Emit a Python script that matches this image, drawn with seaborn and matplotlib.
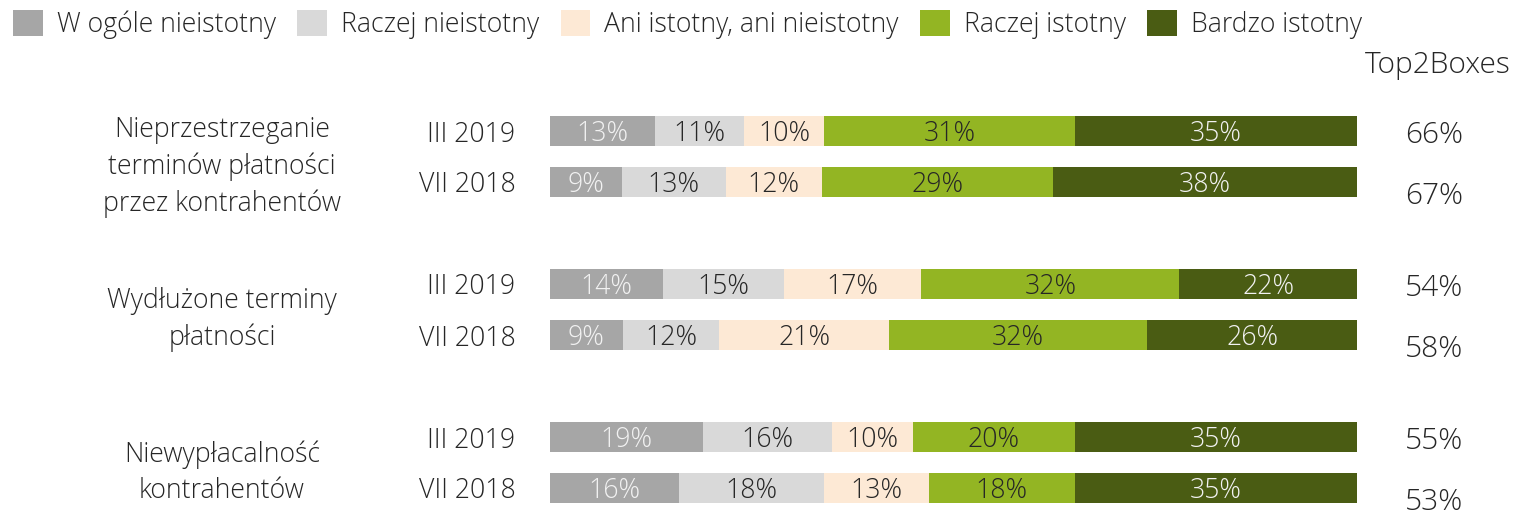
import numpy as np
import pandas as pd
import matplotlib
matplotlib.use("Agg")
import matplotlib.pyplot as plt
from matplotlib.patches import Patch
from matplotlib import transforms
import seaborn as sns

# --- dane ---
categories = ["W ogóle nieistotny", "Raczej nieistotny", "Ani istotny, ani nieistotny",
              "Raczej istotny", "Bardzo istotny"]
issues = ["Nieprzestrzeganie\nterminów płatności\nprzez kontrahentów",
          "Wydłużone terminy\npłatności",
          "Niewypłacalność\nkontrahentów"]
periods = ["III 2019", "VII 2018"]

w_ogole = [13, 9, 14, 9, 19, 16]
raczej_nie = [11, 13, 15, 12, 16, 18]
ani = [10, 12, 17, 21, 10, 13]
raczej_tak = [31, 29, 32, 32, 20, 18]
bardzo = [35, 38, 22, 26, 35, 35]
top2 = [66, 67, 54, 58, 55, 53]

colors = ["#a6a6a6", "#d9d9d9", "#fde9d5", "#93b523", "#4a5c13"]
label_colors = ["#f2f2f2", "#262626", "#262626", "#262626", "#f2f2f2"]
text_color = "#262626"

sns.set_theme(style="white")
plt.rcParams["font.family"] = ["Open Sans", "DejaVu Sans"]
plt.rcParams["font.weight"] = "light"
plt.rcParams["text.color"] = text_color
FS = 19.2
FS_TOP = 21.5

# wiersze: 2 okresy na problem, z pustym wierszem pomiędzy grupami
order = ["r0", "r1", "gap1", "r2", "r3", "gap2", "r4", "r5"]
rows = ["r0", "r1", "r2", "r3", "r4", "r5"]
vals = np.array([w_ogole, raczej_nie, ani, raczej_tak, bardzo], dtype=float).T
totals = vals.sum(axis=1, keepdims=True)
cum = np.cumsum(vals, axis=1) / totals * 100

df = pd.DataFrame(cum, columns=[f"cum{i}" for i in range(5)])
df["row"] = rows

fig = plt.figure(figsize=(15.15, 5.15), dpi=100)
ax = fig.add_axes([550 / 1515, 0, 807 / 1515, 1])

# skumulowane słupki rysowane od najdłuższego
for i in reversed(range(5)):
    sns.barplot(data=df, x=f"cum{i}", y="row", order=order, orient="h",
                color=colors[i], saturation=1, width=0.57, errorbar=None,
                linewidth=0, ax=ax)

# etykiety procentowe w segmentach
pos = {r: order.index(r) for r in rows}
for j, r in enumerate(rows):
    start = 0
    for i in range(5):
        end = cum[j, i]
        ax.text((start + end) / 2, pos[r] + 0.05, f"{int(vals[j, i])}%", ha="center", va="center",
                color=label_colors[i], fontsize=FS, fontweight="light")
        start = end

ax.set_xlim(0, 100)
ax.set_ylim(7 + 27 / 51, -131 / 51)
ax.set_xticks([])
ax.set_yticks(range(len(order)))
ax.set_yticklabels([periods[0], periods[1], "", periods[0], periods[1], "", periods[0], periods[1]])
ax.tick_params(axis="y", length=0, pad=25, labelsize=FS, labelcolor=text_color)
ax.set_xlabel("")
ax.set_ylabel("")
sns.despine(ax=ax, left=True, bottom=True)
ax.patch.set_alpha(0)

# nazwy problemów
trans = transforms.blended_transform_factory(fig.transFigure, ax.transData)
for g, name in enumerate(issues):
    mid = (pos[rows[2 * g]] + pos[rows[2 * g + 1]]) / 2 + 0.2
    ax.text(222 / 1515, mid, name, transform=trans, ha="center", va="center",
            multialignment="center", linespacing=1.4, fontsize=FS, clip_on=False)

# Top2Boxes
fig.text(1438 / 1515, 1 - 65 / 515, "Top2Boxes", ha="center", va="center", fontsize=FS_TOP)
offsets = [0.08, 0.27]
for j, r in enumerate(rows):
    ax.text(1434 / 1515, pos[r] + offsets[j % 2], f"{top2[j]}%", transform=trans,
            ha="center", va="center", fontsize=FS_TOP, clip_on=False)

# legenda
handles = [Patch(facecolor=c, edgecolor="none") for c in colors]
fig.legend(handles, categories, loc="upper left", bbox_to_anchor=(13 / 1515, 1 - 10 / 515),
           ncol=5, frameon=False, fontsize=FS, handlelength=1.12, handleheight=1.12,
           handletextpad=0.52, columnspacing=0.8, borderaxespad=0, borderpad=0)

fig.savefig("out.png", dpi=100)
